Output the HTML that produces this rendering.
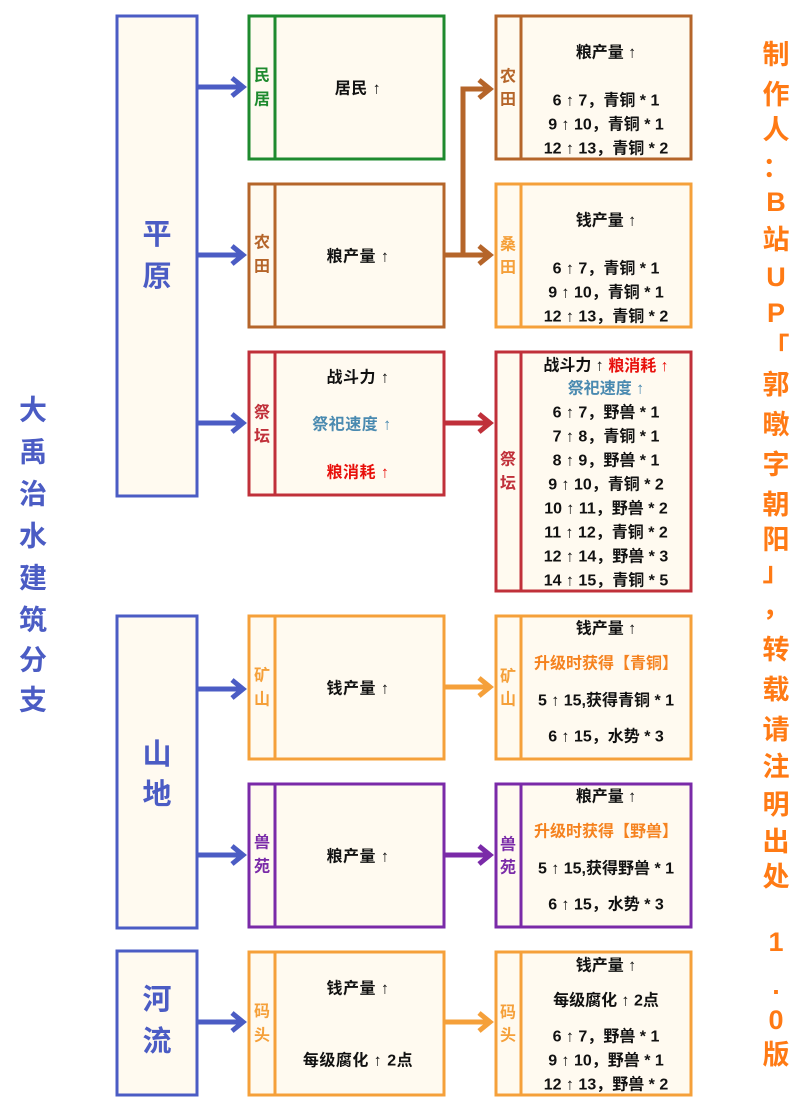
<!DOCTYPE html>
<html><head><meta charset="utf-8"><style>
html,body{margin:0;padding:0;background:#fff}
svg{display:block}
text{font-family:"Liberation Sans","Noto Sans CJK SC",sans-serif;font-weight:bold;text-anchor:middle;dominant-baseline:central}
.t{font-size:16px;fill:#111}
.tab{font-size:16px}
.big{font-size:29px;fill:#4b5cc4}
.side{font-size:27px;fill:#ff7a14}
.ttl{font-size:28px;fill:#4b5cc4}
</style></head><body>
<svg width="808" height="1111" viewBox="0 0 808 1111" xmlns="http://www.w3.org/2000/svg">
<g fill="#fffaf0" stroke-width="3">
<rect x="117" y="16" width="80" height="480" stroke="#4b5cc4"/>
<rect x="117" y="616" width="80" height="312" stroke="#4b5cc4"/>
<rect x="117" y="951" width="80" height="144" stroke="#4b5cc4"/>
</g>
<text class="big" x="157" y="235">平</text><text class="big" x="157" y="277">原</text>
<text class="big" x="157" y="755">山</text><text class="big" x="157" y="795">地</text>
<text class="big" x="157" y="1000">河</text><text class="big" x="157" y="1042">流</text>
<g>
<text class="ttl" x="33" y="410">大</text><text class="ttl" x="33" y="452">禹</text><text class="ttl" x="33" y="494">治</text><text class="ttl" x="33" y="536">水</text><text class="ttl" x="33" y="578">建</text><text class="ttl" x="33" y="620">筑</text><text class="ttl" x="33" y="660">分</text><text class="ttl" x="33" y="700">支</text>
</g>
<g stroke="#4b5cc4" stroke-width="5" fill="none">
<path d="M197 87H242"/><path d="M232 78L243 87L232 96"/>
<path d="M197 255H242"/><path d="M232 246L243 255L232 264"/>
<path d="M197 423H242"/><path d="M232 414L243 423L232 432"/>
<path d="M197 689H242"/><path d="M232 680L243 689L232 698"/>
<path d="M197 855H242"/><path d="M232 846L243 855L232 864"/>
<path d="M197 1022H242"/><path d="M232 1013L243 1022L232 1031"/>
</g>
<g stroke-width="5" fill="none">
<path d="M444 255H463V89H489M463 255H489" stroke="#b5652a"/><path d="M479 80L490 89L479 98M479 246L490 255L479 264" stroke="#b5652a"/>
<path d="M444 423H489" stroke="#c0303a"/><path d="M479 414L490 423L479 432" stroke="#c0303a"/>
<path d="M444 687H489" stroke="#f5a03a"/><path d="M479 678L490 687L479 696" stroke="#f5a03a"/>
<path d="M444 855H489" stroke="#7a2aa8"/><path d="M479 846L490 855L479 864" stroke="#7a2aa8"/>
<path d="M444 1022H489" stroke="#f5a03a"/><path d="M479 1013L490 1022L479 1031" stroke="#f5a03a"/>
</g>
<g fill="#fffaf0" stroke-width="3">
<g stroke="#1e8a2e"><rect x="249" y="16" width="195" height="143"/><path d="M275 16V159"/></g>
<g stroke="#b5652a"><rect x="249" y="184" width="195" height="143"/><path d="M275 184V327"/></g>
<g stroke="#c0303a"><rect x="249" y="352" width="195" height="143"/><path d="M275 352V495"/></g>
<g stroke="#f5a03a"><rect x="249" y="616" width="195" height="143"/><path d="M275 616V759"/></g>
<g stroke="#7a2aa8"><rect x="249" y="784" width="195" height="143"/><path d="M275 784V927"/></g>
<g stroke="#f5a03a"><rect x="249" y="952" width="195" height="143"/><path d="M275 952V1095"/></g>
<g stroke="#b5652a"><rect x="496" y="16" width="195" height="143"/><path d="M521 16V159"/></g>
<g stroke="#f5a03a"><rect x="496" y="184" width="195" height="143"/><path d="M521 184V327"/></g>
<g stroke="#c0303a"><rect x="496" y="352" width="195" height="239"/><path d="M521 352V591"/></g>
<g stroke="#f5a03a"><rect x="496" y="616" width="195" height="143"/><path d="M521 616V759"/></g>
<g stroke="#7a2aa8"><rect x="496" y="784" width="195" height="143"/><path d="M521 784V927"/></g>
<g stroke="#f5a03a"><rect x="496" y="952" width="195" height="143"/><path d="M521 952V1095"/></g>
</g>
<g class="tab">
<text x="262" y="76" fill="#1e8a2e">民</text><text x="262" y="100" fill="#1e8a2e">居</text>
<text x="262" y="243" fill="#b5652a">农</text><text x="262" y="267" fill="#b5652a">田</text>
<text x="262" y="413" fill="#c0303a">祭</text><text x="262" y="437" fill="#c0303a">坛</text>
<text x="262" y="676" fill="#f5a03a">矿</text><text x="262" y="700" fill="#f5a03a">山</text>
<text x="262" y="843" fill="#7a2aa8">兽</text><text x="262" y="867" fill="#7a2aa8">苑</text>
<text x="262" y="1012" fill="#f5a03a">码</text><text x="262" y="1036" fill="#f5a03a">头</text>
<text x="508" y="77" fill="#b5652a">农</text><text x="508" y="100" fill="#b5652a">田</text>
<text x="508" y="245" fill="#f5a03a">桑</text><text x="508" y="268" fill="#f5a03a">田</text>
<text x="508" y="460" fill="#c0303a">祭</text><text x="508" y="484" fill="#c0303a">坛</text>
<text x="508" y="677" fill="#f5a03a">矿</text><text x="508" y="700" fill="#f5a03a">山</text>
<text x="508" y="845" fill="#7a2aa8">兽</text><text x="508" y="868" fill="#7a2aa8">苑</text>
<text x="508" y="1013" fill="#f5a03a">码</text><text x="508" y="1036" fill="#f5a03a">头</text>
</g>
<g class="t" letter-spacing="0.5">
<text x="358" y="89">居民 ↑</text>
<text x="358" y="257">粮产量 ↑</text>
<text x="358" y="378">战斗力 ↑</text>
<text x="352" y="425" fill="#4a8ab0">祭祀速度 ↑</text>
<text x="358" y="473" fill="#e8100c">粮消耗 ↑</text>
<text x="358" y="689">钱产量 ↑</text>
<text x="358" y="857">粮产量 ↑</text>
<text x="358" y="989">钱产量 ↑</text>
<text x="358" y="1061">每级腐化 ↑ 2点</text>
</g>
<g class="t">
<text x="606" y="53">粮产量 ↑</text>
<text x="606" y="101">6 ↑ 7，青铜 * 1</text><text x="606" y="125">9 ↑ 10，青铜 * 1</text><text x="606" y="149">12 ↑ 13，青铜 * 2</text>
<text x="606" y="221">钱产量 ↑</text>
<text x="606" y="269">6 ↑ 7，青铜 * 1</text><text x="606" y="293">9 ↑ 10，青铜 * 1</text><text x="606" y="317">12 ↑ 13，青铜 * 2</text>
<text x="606" y="366">战斗力 ↑ <tspan fill="#e8100c">粮消耗 ↑</tspan></text>
<text x="606" y="389" fill="#4a8ab0">祭祀速度 ↑</text>
<text x="606" y="413">6 ↑ 7，野兽 * 1</text><text x="606" y="437">7 ↑ 8，青铜 * 1</text><text x="606" y="461">8 ↑ 9，野兽 * 1</text>
<text x="606" y="485">9 ↑ 10，青铜 * 2</text><text x="606" y="509">10 ↑ 11，野兽 * 2</text><text x="606" y="533">11 ↑ 12，青铜 * 2</text>
<text x="606" y="557">12 ↑ 14，野兽 * 3</text><text x="606" y="581">14 ↑ 15，青铜 * 5</text>
<text x="606" y="629">钱产量 ↑</text>
<text x="606" y="664" fill="#f5821f">升级时获得【青铜】</text>
<text x="606" y="701">5 ↑ 15,获得青铜 * 1</text>
<text x="606" y="737">6 ↑ 15，水势 * 3</text>
<text x="606" y="797">粮产量 ↑</text>
<text x="606" y="832" fill="#f5821f">升级时获得【野兽】</text>
<text x="606" y="869">5 ↑ 15,获得野兽 * 1</text>
<text x="606" y="905">6 ↑ 15，水势 * 3</text>
<text x="606" y="966">钱产量 ↑</text>
<text x="606" y="1001">每级腐化 ↑ 2点</text>
<text x="606" y="1037">6 ↑ 7，野兽 * 1</text><text x="606" y="1061">9 ↑ 10，野兽 * 1</text><text x="606" y="1085">12 ↑ 13，野兽 * 2</text>
</g>
<g class="side">
<text x="776" y="55">制</text><text x="776" y="95">作</text><text x="776" y="130">人</text><text x="776" y="168">：</text>
<text x="776" y="202">B</text><text x="776" y="240">站</text><text x="776" y="277">U</text><text x="776" y="313">P</text>
<text x="776" y="348">「</text><text x="776" y="385">郭</text><text x="776" y="425">暾</text><text x="776" y="465">字</text>
<text x="776" y="505">朝</text><text x="776" y="540">阳</text><text x="776" y="572">」</text><text x="776" y="607">，</text>
<text x="776" y="650">转</text><text x="776" y="690">载</text><text x="776" y="730">请</text><text x="776" y="767">注</text>
<text x="776" y="805">明</text><text x="776" y="842">出</text><text x="776" y="877">处</text>
<text x="776" y="942">1</text><text x="776" y="985">.</text><text x="776" y="1020">0</text><text x="776" y="1055">版</text>
</g>
</svg>
</body></html>
